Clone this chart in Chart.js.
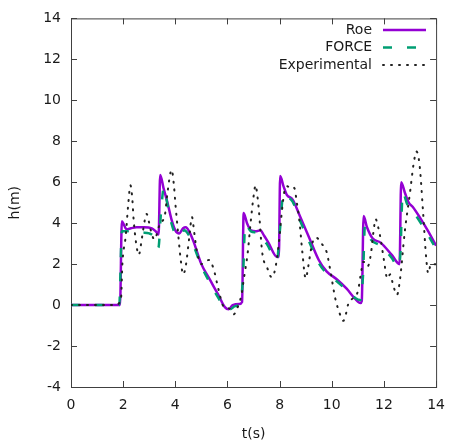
<!DOCTYPE html>
<html>
<head>
<meta charset="utf-8">
<script src="https://cdn.jsdelivr.net/npm/chart.js@4"></script>
<style>
  html, body { margin: 0; padding: 0; background: #fff; }
</style>
</head>
<body>
<canvas id="chart" width="455" height="443"></canvas>
<script>
// series
const roeT = [0, 1.88, 1.95, 2.02, 2.13, 2.3, 2.5, 2.8, 3.1, 3.25, 3.36, 3.42, 3.55, 3.7, 3.85, 4.0, 4.15, 4.3, 4.4, 4.55, 4.7, 5.0, 5.3, 5.65, 5.9, 6.05, 6.2, 6.45, 6.56, 6.62, 6.75, 6.9, 7.08, 7.26, 7.4, 7.57, 7.9, 7.97, 8.02, 8.15, 8.27, 8.5, 8.76, 9.13, 9.5, 9.8, 10.2, 10.57, 10.9, 11.1, 11.15, 11.22, 11.35, 11.57, 11.87, 12.3, 12.6, 12.66, 12.8, 12.95, 13.1, 13.44, 13.7, 14];
const roeH = [0, 0, 4.1, 3.95, 3.7, 3.75, 3.8, 3.8, 3.75, 3.6, 3.45, 6.35, 5.7, 5.0, 4.2, 3.65, 3.5, 3.75, 3.8, 3.55, 3.1, 2.0, 1.3, 0.5, -0.1, -0.2, 0.0, 0.05, 0.15, 4.5, 4.0, 3.65, 3.6, 3.65, 3.4, 3.05, 2.35, 2.35, 6.3, 5.8, 5.4, 5.15, 4.4, 3.3, 2.2, 1.65, 1.25, 0.8, 0.3, 0.1, 0.2, 4.35, 3.8, 3.25, 3.05, 2.45, 2.0, 6.0, 5.5, 5.0, 4.8, 4.15, 3.6, 2.9];

const forceT = [0, 1.85, 1.95, 2.1, 2.4, 2.7, 3.0, 3.2, 3.35, 3.45, 3.56, 3.7, 3.85, 4.08, 4.2, 4.35, 4.5, 4.7, 5.0, 5.3, 5.65, 5.9, 6.1, 6.3, 6.5, 6.6, 6.68, 6.9, 7.2, 7.5, 7.9, 8.0, 8.15, 8.3, 8.5, 8.76, 9.13, 9.5, 9.8, 10.2, 10.6, 10.9, 11.1, 11.2, 11.27, 11.5, 11.87, 12.3, 12.55, 12.63, 12.72, 12.9, 13.1, 13.44, 13.7, 14];
const forceH = [0, 0, 3.6, 3.6, 3.65, 3.55, 3.5, 3.3, 2.8, 4.5, 5.75, 4.9, 4.0, 3.35, 3.4, 3.65, 3.45, 2.9, 1.9, 1.15, 0.35, -0.15, -0.2, -0.05, 0.1, 1.5, 3.95, 3.6, 3.5, 3.0, 2.2, 3.5, 5.45, 5.3, 5.05, 4.2, 3.1, 2.05, 1.55, 1.15, 0.7, 0.35, 0.25, 1.5, 3.85, 3.2, 2.9, 2.3, 1.85, 2.5, 5.5, 4.9, 4.6, 3.95, 3.4, 2.75];

const expT = [0, 1.75, 1.85, 1.92, 1.97, 2.1, 2.2, 2.28, 2.35, 2.4, 2.5, 2.6, 2.7, 2.77, 2.9, 3.0, 3.08, 3.2, 3.3, 3.4, 3.6, 3.7, 3.86, 3.95, 4.0, 4.1, 4.2, 4.3, 4.4, 4.53, 4.64, 4.72, 4.83, 5.0, 5.15, 5.3, 5.46, 5.65, 5.84, 6.03, 6.15, 6.25, 6.35, 6.44, 6.55, 6.63, 6.78, 6.89, 7.0, 7.08, 7.15, 7.2, 7.33, 7.53, 7.7, 7.8, 7.9, 8.0, 8.08, 8.2, 8.3, 8.4, 8.5, 8.57, 8.66, 8.76, 8.87, 9.0, 9.1, 9.2, 9.32, 9.4, 9.5, 9.58, 9.7, 9.8, 9.95, 10.13, 10.3, 10.44, 10.55, 10.63, 10.82, 11.0, 11.13, 11.2, 11.3, 11.38, 11.5, 11.6, 11.68, 11.78, 11.87, 12.0, 12.13, 12.24, 12.35, 12.5, 12.62, 12.8, 13.0, 13.15, 13.25, 13.37, 13.5, 13.62, 13.7, 13.8, 14];
const expH = [0, 0, 0.1, 0.35, 2.0, 3.4, 5.0, 5.85, 5.2, 4.2, 3.0, 2.45, 3.1, 3.7, 4.45, 4.0, 3.55, 3.2, 3.5, 3.95, 4.4, 5.5, 6.6, 5.8, 5.0, 3.6, 2.3, 1.5, 1.9, 3.25, 4.3, 3.6, 2.6, 2.0, 2.15, 2.2, 1.8, 0.8, -0.05, -0.15, -0.25, -0.45, -0.2, 0.05, 0.6, 1.3, 2.6, 4.05, 5.3, 5.85, 5.3, 4.7, 2.6, 1.8, 1.35, 1.6, 2.3, 3.4, 4.5, 5.65, 5.8, 5.7, 5.75, 5.7, 5.0, 4.1, 2.6, 1.3, 1.9, 2.7, 3.25, 3.3, 3.2, 3.05, 2.85, 2.6, 1.65, 0.35, -0.4, -0.77, -0.4, 0.05, 0.35, 0.67, 1.65, 2.1, 2.1, 1.9, 2.5, 3.6, 4.2, 3.8, 3.25, 2.2, 1.3, 1.5, 1.0, 0.5, 1.3, 3.6, 5.5, 7.0, 7.5, 6.8, 4.55, 2.3, 1.55, 2.0, 2.0];

const seriesNames = ['Roe', 'FORCE', 'Experimental'];
const xTicks = [0, 2, 4, 6, 8, 10, 12, 14];
const yTicks = [-4, -2, 0, 2, 4, 6, 8, 10, 12, 14];

const txtColor = '#1a1a1a';
const frameColor = '#404040';

function pairs(ts, hs) {
  return ts.map((t, i) => ({ x: t, y: hs[i] }));
}

// gnuplot-like frame with inward ticks on all four sides
const framePlugin = {
  id: 'frame',
  beforeDatasetsDraw(chart) {
    const { ctx, chartArea: a, scales } = chart;
    ctx.save();
    ctx.strokeStyle = frameColor;
    ctx.lineWidth = 1;
    ctx.strokeRect(a.left + 0.5, a.top + 0.5, a.right - a.left, a.bottom - a.top);
    ctx.beginPath();
    xTicks.forEach(v => {
      const x = Math.round(scales.x.getPixelForValue(v)) + 0.5;
      ctx.moveTo(x, a.bottom); ctx.lineTo(x, a.bottom - 6);
      ctx.moveTo(x, a.top); ctx.lineTo(x, a.top + 6);
    });
    yTicks.forEach(v => {
      const y = Math.round(scales.y.getPixelForValue(v)) + 0.5;
      ctx.moveTo(a.left, y); ctx.lineTo(a.left + 6, y);
      ctx.moveTo(a.right, y); ctx.lineTo(a.right - 6, y);
    });
    ctx.stroke();
    ctx.restore();
  }
};

// legend with the text on the left and the line sample on the right
const keyPlugin = {
  id: 'key',
  afterDraw(chart) {
    const { ctx } = chart;
    ctx.save();
    ctx.font = '14px "DejaVu Sans", sans-serif';
    ctx.textAlign = 'right';
    ctx.textBaseline = 'middle';
    chart.data.datasets.forEach((ds, i) => {
      const y = 30 + i * 17.5;
      ctx.fillStyle = txtColor;
      ctx.fillText(ds.label, 372, y);
      ctx.strokeStyle = ds.borderColor;
      ctx.lineWidth = ds.borderWidth;
      ctx.lineCap = ds.borderCapStyle || 'butt';
      ctx.setLineDash(ds.borderDash || []);
      ctx.beginPath();
      ctx.moveTo(383, y);
      ctx.lineTo(426, y);
      ctx.stroke();
    });
    ctx.restore();
  }
};

Chart.defaults.font.family = '"DejaVu Sans", sans-serif';
Chart.defaults.font.size = 14;
Chart.defaults.color = txtColor;

new Chart(document.getElementById('chart'), {
  type: 'scatter',
  data: {
    datasets: [
      {
        label: seriesNames[0],
        data: pairs(roeT, roeH),
        showLine: true,
        borderColor: '#9400d3',
        borderWidth: 2.5,
        pointRadius: 0,
        cubicInterpolationMode: 'monotone',
        order: 3,
      },
      {
        label: seriesNames[1],
        data: pairs(forceT, forceH),
        showLine: true,
        borderColor: '#009e73',
        borderWidth: 2.5,
        borderDash: [9, 15],
        pointRadius: 0,
        cubicInterpolationMode: 'monotone',
        order: 2,
      },
      {
        label: seriesNames[2],
        data: pairs(expT, expH),
        showLine: true,
        borderColor: '#222222',
        borderWidth: 2,
        borderDash: [1, 7],
        borderCapStyle: 'round',
        pointRadius: 0,
        cubicInterpolationMode: 'monotone',
        order: 1,
      },
    ],
  },
  options: {
    responsive: false,
    animation: false,
    events: [],
    layout: { padding: { top: 14, right: 10, left: 0, bottom: 0 } },
    plugins: {
      legend: { display: false },
      tooltip: { enabled: false },
    },
    scales: {
      x: {
        type: 'linear',
        min: 0,
        max: 14,
        afterBuildTicks: s => { s.ticks = xTicks.map(v => ({ value: v })); },
        afterFit: s => { s.height = 56; },
        grid: { display: false, drawTicks: false },
        border: { display: false },
        ticks: { padding: 10, color: txtColor },
        title: { display: true, text: 't(s)', color: txtColor, padding: { top: 0, bottom: 0 } },
      },
      y: {
        type: 'linear',
        min: -4,
        max: 14,
        afterBuildTicks: s => { s.ticks = yTicks.map(v => ({ value: v })); },
        afterFit: s => { s.width = 71; },
        grid: { display: false, drawTicks: false },
        border: { display: false },
        ticks: { padding: 10, color: txtColor },
        title: { display: true, text: 'h(m)', color: txtColor, padding: { top: 7, bottom: 0 } },
      },
    },
  },
  plugins: [framePlugin, keyPlugin],
});
</script>
</body>
</html>
